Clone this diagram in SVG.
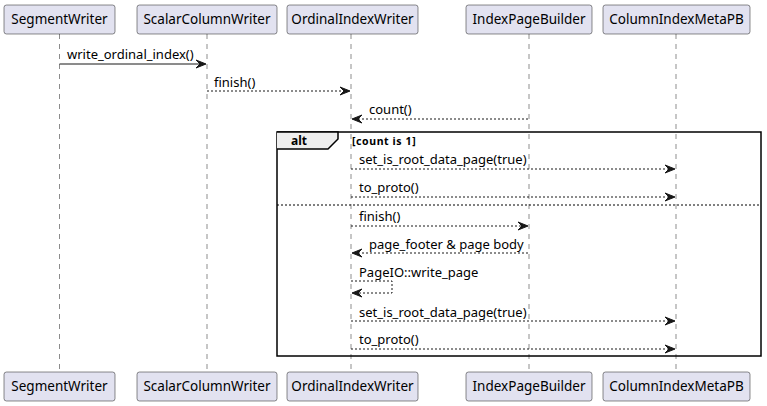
<svg xmlns="http://www.w3.org/2000/svg" width="767" height="406" viewBox="0 0 767 406">
<style>
.box{fill:#E2E2F0;stroke:#181818;stroke-width:0.5}
.pl{font-family:"Noto Sans","Liberation Sans",sans-serif;font-size:13.5px;fill:#000;text-anchor:middle}
.life{stroke:#181818;stroke-width:0.5;stroke-dasharray:5,5}
.msg{font-family:"Noto Sans","Liberation Sans",sans-serif;font-size:13px;fill:#000}
.solid{stroke:#181818;stroke-width:1;fill:none}
.dot{stroke:#181818;stroke-width:1;fill:none;stroke-dasharray:2,2}
.head{fill:#181818;stroke:#181818;stroke-width:1}
.frame{fill:none;stroke:#000;stroke-width:1.5}
</style>
<defs>
<polygon id="ar" points="-10,-4 0,0 -10,4 -6,0"/>
<polygon id="al" points="10,-4 0,0 10,4 6,0"/>
</defs>
<g id="lifelines">
<line class="life" x1="59.5" y1="34" x2="59.5" y2="372"/>
<line class="life" x1="207" y1="34" x2="207" y2="372"/>
<line class="life" x1="351" y1="34" x2="351" y2="372"/>
<line class="life" x1="529" y1="34" x2="529" y2="372"/>
<line class="life" x1="676" y1="34" x2="676" y2="372"/>
</g>
<g id="alt-frame">
<rect class="frame" x="277" y="132" width="484" height="224"/>
<path d="M277,132 L338,132 L338,139 L328,149 L277,149" fill="#EEEEEE" stroke="#000" stroke-width="1.5"/>
<text x="291" y="145" font-family="'Noto Sans','Liberation Sans',sans-serif" font-size="12" font-weight="bold">alt</text>
<text x="352" y="145" font-family="'Noto Sans','Liberation Sans',sans-serif" font-size="10.5" font-weight="bold" letter-spacing="0.6">[count is 1]</text>
<line x1="277" y1="205" x2="761" y2="205" stroke="#000" stroke-width="1" stroke-dasharray="2,2"/>
</g>
<g id="connectors">
<line class="solid" x1="59.5" y1="64" x2="205" y2="64"/><use href="#ar" class="head" x="206" y="64"/>
<text class="msg" x="67" y="59">write_ordinal_index()</text>
<line class="dot" x1="207" y1="91" x2="349" y2="91"/><use href="#ar" class="head" x="350" y="91"/>
<text class="msg" x="214" y="87">finish()</text>
<line class="dot" x1="354" y1="119" x2="529" y2="119"/><use href="#al" class="head" x="352" y="119"/>
<text class="msg" x="369" y="114">count()</text>
<line class="dot" x1="351" y1="169" x2="674" y2="169"/><use href="#ar" class="head" x="675" y="169"/>
<text class="msg" x="359" y="164">set_is_root_data_page(true)</text>
<line class="dot" x1="351" y1="197" x2="674" y2="197"/><use href="#ar" class="head" x="675" y="197"/>
<text class="msg" x="359" y="192">to_proto()</text>
<line class="dot" x1="351" y1="226" x2="527" y2="226"/><use href="#ar" class="head" x="528" y="226"/>
<text class="msg" x="359" y="221">finish()</text>
<line class="dot" x1="354" y1="253" x2="529" y2="253"/><use href="#al" class="head" x="352" y="253"/>
<text class="msg" x="369" y="249">page_footer &amp; page body</text>
<polyline class="dot" points="351,281 392,281 392,293 354,293"/><use href="#al" class="head" x="352" y="293"/>
<text class="msg" x="359" y="277">PageIO::write_page</text>
<line class="dot" x1="351" y1="321" x2="674" y2="321"/><use href="#ar" class="head" x="675" y="321"/>
<text class="msg" x="359" y="317">set_is_root_data_page(true)</text>
<line class="dot" x1="351" y1="349" x2="674" y2="349"/><use href="#ar" class="head" x="675" y="349"/>
<text class="msg" x="359" y="344">to_proto()</text>
</g>
<g id="SegmentWriter">
<rect class="box" x="4" y="5" width="111" height="29" rx="2.5"/><text class="pl" x="59.5" y="24">SegmentWriter</text>
<rect class="box" x="4" y="372" width="111" height="29" rx="2.5"/><text class="pl" x="59.5" y="391">SegmentWriter</text>
</g>
<g id="ScalarColumnWriter">
<rect class="box" x="137" y="5" width="140" height="29" rx="2.5"/><text class="pl" x="207" y="24">ScalarColumnWriter</text>
<rect class="box" x="137" y="372" width="140" height="29" rx="2.5"/><text class="pl" x="207" y="391">ScalarColumnWriter</text>
</g>
<g id="OrdinalIndexWriter">
<rect class="box" x="287" y="5" width="131" height="29" rx="2.5"/><text class="pl" x="352.5" y="24">OrdinalIndexWriter</text>
<rect class="box" x="287" y="372" width="131" height="29" rx="2.5"/><text class="pl" x="352.5" y="391">OrdinalIndexWriter</text>
</g>
<g id="IndexPageBuilder">
<rect class="box" x="466" y="5" width="126" height="29" rx="2.5"/><text class="pl" x="529" y="24">IndexPageBuilder</text>
<rect class="box" x="466" y="372" width="126" height="29" rx="2.5"/><text class="pl" x="529" y="391">IndexPageBuilder</text>
</g>
<g id="ColumnIndexMetaPB">
<rect class="box" x="603" y="5" width="147" height="29" rx="2.5"/><text class="pl" x="676.5" y="24">ColumnIndexMetaPB</text>
<rect class="box" x="603" y="372" width="147" height="29" rx="2.5"/><text class="pl" x="676.5" y="391">ColumnIndexMetaPB</text>
</g>
</svg>
